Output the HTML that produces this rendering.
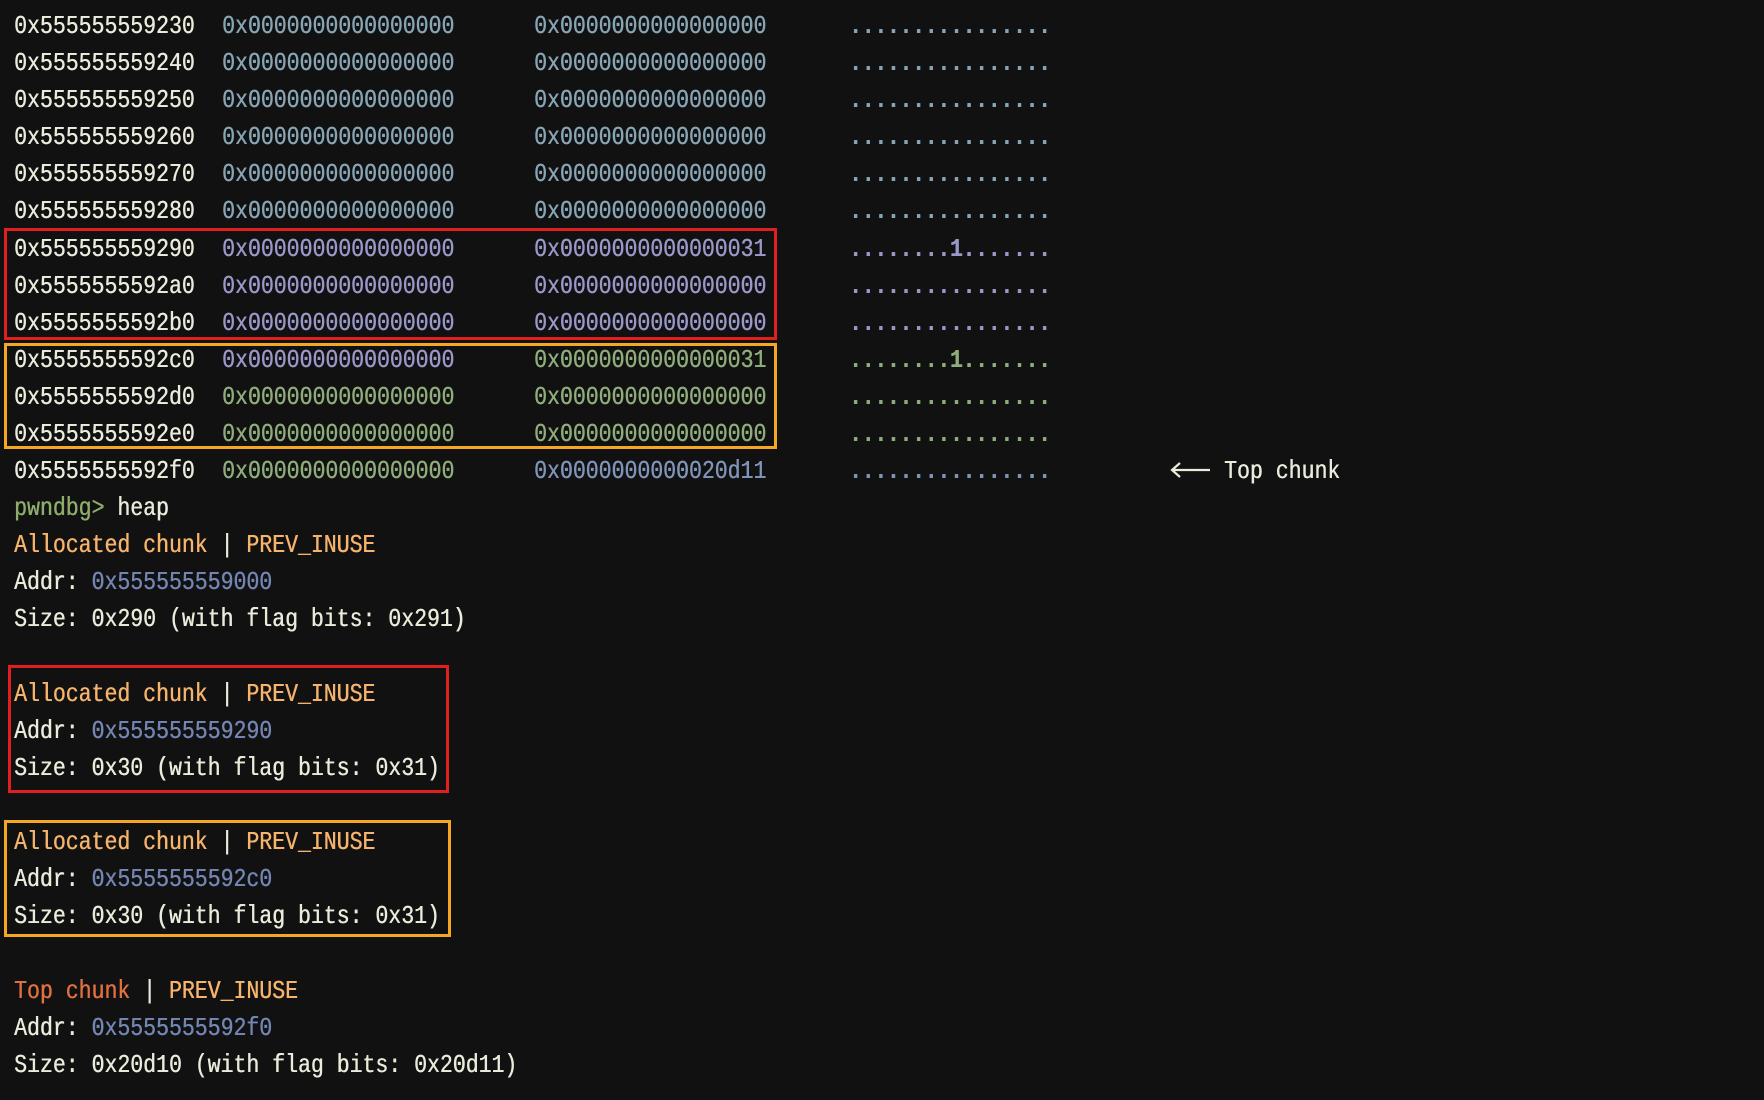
<!DOCTYPE html>
<html><head><meta charset="utf-8"><style>
body{margin:0;background:#111111;width:1764px;height:1100px;overflow:hidden;position:relative;font-family:"Liberation Mono","DejaVu Sans Mono",monospace;font-size:21.5px;color:#ebebdc}
.r{position:absolute;left:0;height:37px;line-height:37px;white-space:pre;margin-top:3px}
.r span{position:absolute;top:0;display:inline-block;transform:scaleY(1.22);transform-origin:50% 50%;text-shadow:0.4px 0 0 currentColor}
.a{left:14px}.b{left:222px}.c{left:534px}.d{left:849px;letter-spacing:-0.3px;font-weight:bold}
.t{color:#87a5b5}.p{color:#9a97c9}.g{color:#8fad7b}.bl{color:#7f94b8}
.o{color:#f6b36c}.ad{color:#7385b3}.pr{color:#8fad6a}.tc{color:#e0703f}
b{font-weight:normal}
.box{position:absolute;border:3px solid;box-sizing:border-box}
</style></head><body>
<div class="r" style="top:6px"><span class="a">0x555555559230</span><span class="b t">0x0000000000000000</span><span class="c t">0x0000000000000000</span><span class="d t">................</span></div>
<div class="r" style="top:43px"><span class="a">0x555555559240</span><span class="b t">0x0000000000000000</span><span class="c t">0x0000000000000000</span><span class="d t">................</span></div>
<div class="r" style="top:80px"><span class="a">0x555555559250</span><span class="b t">0x0000000000000000</span><span class="c t">0x0000000000000000</span><span class="d t">................</span></div>
<div class="r" style="top:117px"><span class="a">0x555555559260</span><span class="b t">0x0000000000000000</span><span class="c t">0x0000000000000000</span><span class="d t">................</span></div>
<div class="r" style="top:154px"><span class="a">0x555555559270</span><span class="b t">0x0000000000000000</span><span class="c t">0x0000000000000000</span><span class="d t">................</span></div>
<div class="r" style="top:191px"><span class="a">0x555555559280</span><span class="b t">0x0000000000000000</span><span class="c t">0x0000000000000000</span><span class="d t">................</span></div>
<div class="r" style="top:229px"><span class="a">0x555555559290</span><span class="b p">0x0000000000000000</span><span class="c p">0x0000000000000031</span><span class="d p">........1.......</span></div>
<div class="r" style="top:266px"><span class="a">0x5555555592a0</span><span class="b p">0x0000000000000000</span><span class="c p">0x0000000000000000</span><span class="d p">................</span></div>
<div class="r" style="top:303px"><span class="a">0x5555555592b0</span><span class="b p">0x0000000000000000</span><span class="c p">0x0000000000000000</span><span class="d p">................</span></div>
<div class="r" style="top:340px"><span class="a">0x5555555592c0</span><span class="b p">0x0000000000000000</span><span class="c g">0x0000000000000031</span><span class="d g">........1.......</span></div>
<div class="r" style="top:377px"><span class="a">0x5555555592d0</span><span class="b g">0x0000000000000000</span><span class="c g">0x0000000000000000</span><span class="d g">................</span></div>
<div class="r" style="top:414px"><span class="a">0x5555555592e0</span><span class="b g">0x0000000000000000</span><span class="c g">0x0000000000000000</span><span class="d g">................</span></div>
<div class="r" style="top:451px"><span class="a">0x5555555592f0</span><span class="b g">0x0000000000000000</span><span class="c bl">0x0000000000020d11</span><span class="d bl">................</span><span style="left:1224px">Top chunk</span></div>
<svg style="position:absolute;left:1170px;top:460px" width="44" height="20"><path d="M2 10 H40 M10 3 L2 10 L10 17" stroke="#ebebdc" stroke-width="2.2" fill="none"/></svg>
<div class="r" style="top:488px"><span class="a"><b class="pr">pwndbg&gt;</b> heap</span></div>
<div class="r" style="top:525px"><span class="a o">Allocated chunk <b style="color:#ebebdc">|</b> PREV_INUSE</span></div>
<div class="r" style="top:562px"><span class="a">Addr: <b class="ad">0x555555559000</b></span></div>
<div class="r" style="top:599px"><span class="a">Size: 0x290 (with flag bits: 0x291)</span></div>
<div class="r" style="top:674px"><span class="a o">Allocated chunk <b style="color:#ebebdc">|</b> PREV_INUSE</span></div>
<div class="r" style="top:711px"><span class="a">Addr: <b class="ad">0x555555559290</b></span></div>
<div class="r" style="top:748px"><span class="a">Size: 0x30 (with flag bits: 0x31)</span></div>
<div class="r" style="top:822px"><span class="a o">Allocated chunk <b style="color:#ebebdc">|</b> PREV_INUSE</span></div>
<div class="r" style="top:859px"><span class="a">Addr: <b class="ad">0x5555555592c0</b></span></div>
<div class="r" style="top:896px"><span class="a">Size: 0x30 (with flag bits: 0x31)</span></div>
<div class="r" style="top:971px"><span class="a"><b class="tc">Top chunk</b> | <b class="o">PREV_INUSE</b></span></div>
<div class="r" style="top:1008px"><span class="a">Addr: <b class="ad">0x5555555592f0</b></span></div>
<div class="r" style="top:1045px"><span class="a">Size: 0x20d10 (with flag bits: 0x20d11)</span></div>
<div class="box" style="left:4px;top:228px;width:773px;height:112px;border-color:#e0201f"></div>
<div class="box" style="left:4px;top:343px;width:773px;height:106px;border-color:#f5a623"></div>
<div class="box" style="left:8px;top:665px;width:441px;height:128px;border-color:#e0201f"></div>
<div class="box" style="left:4px;top:820px;width:447px;height:117px;border-color:#f5a623"></div>
</body></html>
